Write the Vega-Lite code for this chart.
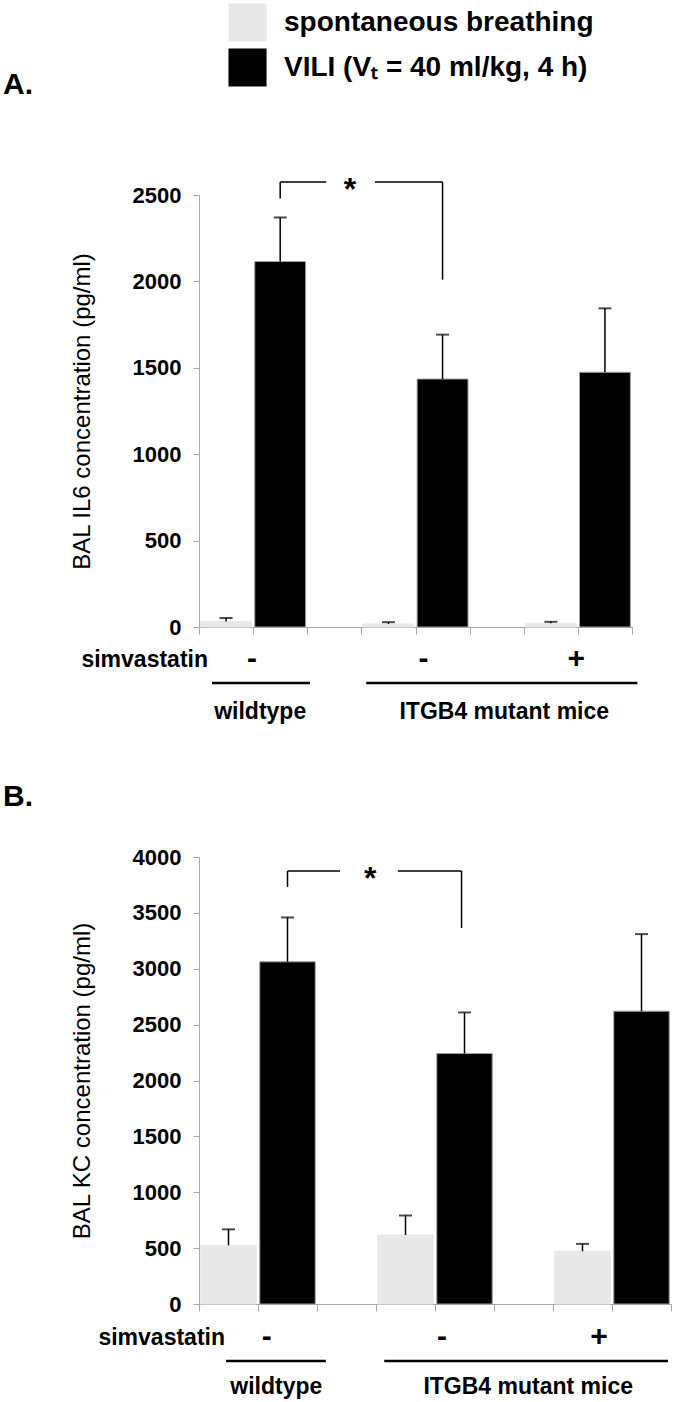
{
  "$schema": "https://vega.github.io/schema/vega-lite/v6.json",
  "padding": {"left": 3, "top": 3, "right": 3, "bottom": 3},
  "config": {
    "font": "Liberation Sans",
    "view": {"stroke": null},
    "axis": {
      "grid": false,
      "domainColor": "#A6A6A6",
      "tickColor": "#A6A6A6",
      "labelColor": "#000000",
      "titleColor": "#000000",
      "labelFont": "Liberation Sans",
      "titleFont": "Liberation Sans"
    },
    "title": {"font": "Liberation Sans", "color": "#000000"}
  },
  "datasets": {
    "il6": [
      {"bar": "wildtype | spontaneous breathing", "condition": "spontaneous breathing", "value": 32, "upper": 52},
      {"bar": "wildtype | VILI", "condition": "VILI (Vₜ = 40 ml/kg, 4 h)", "value": 2115, "upper": 2370},
      {"bar": "ITGB4 mutant | spontaneous breathing", "condition": "spontaneous breathing", "value": 18, "upper": 28},
      {"bar": "ITGB4 mutant | VILI", "condition": "VILI (Vₜ = 40 ml/kg, 4 h)", "value": 1435, "upper": 1692},
      {"bar": "ITGB4 mutant + simvastatin | spontaneous breathing", "condition": "spontaneous breathing", "value": 22, "upper": 30},
      {"bar": "ITGB4 mutant + simvastatin | VILI", "condition": "VILI (Vₜ = 40 ml/kg, 4 h)", "value": 1474, "upper": 1844}
    ],
    "kc": [
      {"bar": "wildtype | spontaneous breathing", "condition": "spontaneous breathing", "value": 525, "upper": 668},
      {"bar": "wildtype | VILI", "condition": "VILI (Vₜ = 40 ml/kg, 4 h)", "value": 3062, "upper": 3459},
      {"bar": "ITGB4 mutant | spontaneous breathing", "condition": "spontaneous breathing", "value": 618, "upper": 792},
      {"bar": "ITGB4 mutant | VILI", "condition": "VILI (Vₜ = 40 ml/kg, 4 h)", "value": 2242, "upper": 2609},
      {"bar": "ITGB4 mutant + simvastatin | spontaneous breathing", "condition": "spontaneous breathing", "value": 472, "upper": 538},
      {"bar": "ITGB4 mutant + simvastatin | VILI", "condition": "VILI (Vₜ = 40 ml/kg, 4 h)", "value": 2620, "upper": 3310}
    ],
    "simva": [{"label": "simvastatin", "pos": 0}],
    "signsA": [{"label": "-", "pos": 0.98}, {"label": "-", "pos": 4.15}, {"label": "+", "pos": 6.97}],
    "signsB": [{"label": "-", "pos": 1.15}, {"label": "-", "pos": 4.12}, {"label": "+", "pos": 6.78}],
    "groupsA": [
      {"label": "wildtype", "from": 0.24, "to": 2.05, "mid": 1.13},
      {"label": "ITGB4 mutant mice", "from": 3.09, "to": 8.1, "mid": 5.64}
    ],
    "groupsB": [
      {"label": "wildtype", "from": 0.46, "to": 2.15, "mid": 1.31},
      {"label": "ITGB4 mutant mice", "from": 3.14, "to": 7.95, "mid": 5.58}
    ],
    "bracketA": [
      {"x": 1.5, "x2": 1.5, "y": 2480, "y2": 2575},
      {"x": 1.5, "x2": 2.35, "y": 2575, "y2": 2575},
      {"x": 3.25, "x2": 4.5, "y": 2575, "y2": 2575},
      {"x": 4.5, "x2": 4.5, "y": 2575, "y2": 2010}
    ],
    "starA": [{"label": "*", "pos": 2.79, "y": 2575}],
    "bracketB": [
      {"x": 1.5, "x2": 1.5, "y": 3732, "y2": 3875},
      {"x": 1.5, "x2": 2.39, "y": 3875, "y2": 3875},
      {"x": 3.37, "x2": 4.45, "y": 3875, "y2": 3875},
      {"x": 4.45, "x2": 4.45, "y": 3875, "y2": 3365}
    ],
    "starB": [{"label": "*", "pos": 2.9, "y": 3875}]
  },
  "spacing": 58,
  "vconcat": [
    {
      "width": 433,
      "height": 432,
      "title": {"text": "A.", "anchor": "start", "frame": "group", "dx": -196, "offset": 74, "fontSize": 30, "fontWeight": "bold"},
      "layer": [
        {
          "layer": [
            {
              "data": {"name": "il6"},
              "mark": {"type": "bar", "width": {"band": 0.94}, "strokeWidth": 1},
              "encoding": {
                "x": {"field": "bar", "type": "nominal", "sort": null,
                  "scale": {"domain": ["wildtype | spontaneous breathing", "wildtype | VILI", "gap 1", "ITGB4 mutant | spontaneous breathing", "ITGB4 mutant | VILI", "gap 2", "ITGB4 mutant + simvastatin | spontaneous breathing", "ITGB4 mutant + simvastatin | VILI"], "paddingInner": 0, "paddingOuter": 0},
                  "axis": {"labels": false, "title": null, "tickBand": "extent", "tickSize": 7}},
                "y": {"field": "value", "type": "quantitative",
                  "scale": {"domain": [0, 2500], "nice": false},
                  "axis": {"values": [0, 500, 1000, 1500, 2000, 2500], "format": "d", "title": "BAL IL6 concentration (pg/ml)", "labelFontSize": 22, "labelFontWeight": "bold", "labelPadding": 12, "tickSize": 6, "titleFontSize": 24, "titleFontWeight": 500, "titlePadding": 38}},
                "color": {"field": "condition", "type": "nominal",
                  "scale": {"domain": ["spontaneous breathing", "VILI (Vₜ = 40 ml/kg, 4 h)"], "range": ["#E8E8E8", "#000000"]},
                  "legend": {"orient": "none", "legendX": 29, "legendY": -192, "title": null, "symbolType": "square", "symbolSize": 1450, "symbolStrokeWidth": 0, "symbolOpacity": 1, "labelFontSize": 28, "labelFontWeight": "bold", "labelColor": "#000000", "labelOffset": 17, "rowPadding": 6, "labelLimit": 500}},
                "stroke": {"field": "condition", "type": "nominal", "scale": {"domain": ["spontaneous breathing", "VILI (Vₜ = 40 ml/kg, 4 h)"], "range": ["#E8E8E8", "#A0A0A0"]}, "legend": null}
              }
            },
            {
              "data": {"name": "il6"},
              "mark": {"type": "rule", "color": "#000000", "strokeWidth": 1.5},
              "encoding": {
                "x": {"field": "bar", "type": "nominal"},
                "y": {"field": "value", "type": "quantitative"},
                "y2": {"field": "upper"}
              }
            },
            {
              "data": {"name": "il6"},
              "mark": {"type": "tick", "color": "#000000", "thickness": 2, "size": 13, "orient": "horizontal"},
              "encoding": {
                "x": {"field": "bar", "type": "nominal"},
                "y": {"field": "upper", "type": "quantitative"}
              }
            }
          ]
        },
        {
          "layer": [
            {
              "data": {"name": "simva"},
              "mark": {"type": "text", "align": "right", "baseline": "middle", "dx": 9, "dy": 33, "fontSize": 23, "fontWeight": "bold", "color": "#000000"},
              "encoding": {
                "x": {"field": "pos", "type": "quantitative", "scale": {"domain": [0, 8]}, "axis": null},
                "y": {"value": "height"},
                "text": {"field": "label"}
              }
            },
            {
              "data": {"name": "signsA"},
              "mark": {"type": "text", "align": "center", "baseline": "middle", "dy": 32, "fontSize": 30, "fontWeight": "bold", "color": "#000000"},
              "encoding": {
                "x": {"field": "pos", "type": "quantitative", "scale": {"domain": [0, 8]}, "axis": null},
                "y": {"value": "height"},
                "text": {"field": "label"}
              }
            },
            {
              "data": {"name": "groupsA"},
              "mark": {"type": "rule", "color": "#000000", "strokeWidth": 2.5, "yOffset": 56},
              "encoding": {
                "x": {"field": "from", "type": "quantitative", "scale": {"domain": [0, 8]}, "axis": null},
                "x2": {"field": "to"},
                "y": {"value": "height"}
              }
            },
            {
              "data": {"name": "groupsA"},
              "mark": {"type": "text", "align": "center", "baseline": "middle", "dy": 85, "fontSize": 23, "fontWeight": "bold", "color": "#000000"},
              "encoding": {
                "x": {"field": "mid", "type": "quantitative", "scale": {"domain": [0, 8]}, "axis": null},
                "y": {"value": "height"},
                "text": {"field": "label"}
              }
            },
            {
              "data": {"name": "bracketA"},
              "mark": {"type": "rule", "color": "#000000", "strokeWidth": 1.5},
              "encoding": {
                "x": {"field": "x", "type": "quantitative", "scale": {"domain": [0, 8]}, "axis": null},
                "x2": {"field": "x2"},
                "y": {"field": "y", "type": "quantitative"},
                "y2": {"field": "y2"}
              }
            },
            {
              "data": {"name": "starA"},
              "mark": {"type": "text", "align": "center", "baseline": "middle", "dy": 8, "fontSize": 32, "fontWeight": "bold", "color": "#000000"},
              "encoding": {
                "x": {"field": "pos", "type": "quantitative", "scale": {"domain": [0, 8]}, "axis": null},
                "y": {"field": "y", "type": "quantitative"},
                "text": {"field": "label"}
              }
            }
          ]
        }
      ],
      "resolve": {"scale": {"x": "independent"}}
    },
    {
      "width": 472,
      "height": 447,
      "title": {"text": "B.", "anchor": "start", "frame": "group", "dx": -196, "offset": 34, "fontSize": 30, "fontWeight": "bold"},
      "layer": [
        {
          "layer": [
            {
              "data": {"name": "kc"},
              "mark": {"type": "bar", "width": {"band": 0.94}, "strokeWidth": 1},
              "encoding": {
                "x": {"field": "bar", "type": "nominal", "sort": null,
                  "scale": {"domain": ["wildtype | spontaneous breathing", "wildtype | VILI", "gap 1", "ITGB4 mutant | spontaneous breathing", "ITGB4 mutant | VILI", "gap 2", "ITGB4 mutant + simvastatin | spontaneous breathing", "ITGB4 mutant + simvastatin | VILI"], "paddingInner": 0, "paddingOuter": 0},
                  "axis": {"labels": false, "title": null, "tickBand": "extent", "tickSize": 7}},
                "y": {"field": "value", "type": "quantitative",
                  "scale": {"domain": [0, 4000], "nice": false},
                  "axis": {"values": [0, 500, 1000, 1500, 2000, 2500, 3000, 3500, 4000], "format": "d", "title": "BAL KC concentration (pg/ml)", "labelFontSize": 22, "labelFontWeight": "bold", "labelPadding": 12, "tickSize": 6, "titleFontSize": 24, "titleFontWeight": 500, "titlePadding": 38}},
                "color": {"field": "condition", "type": "nominal",
                  "scale": {"domain": ["spontaneous breathing", "VILI (Vₜ = 40 ml/kg, 4 h)"], "range": ["#E8E8E8", "#000000"]},
                  "legend": null},
                "stroke": {"field": "condition", "type": "nominal", "scale": {"domain": ["spontaneous breathing", "VILI (Vₜ = 40 ml/kg, 4 h)"], "range": ["#E8E8E8", "#A0A0A0"]}, "legend": null}
              }
            },
            {
              "data": {"name": "kc"},
              "mark": {"type": "rule", "color": "#000000", "strokeWidth": 1.5},
              "encoding": {
                "x": {"field": "bar", "type": "nominal"},
                "y": {"field": "value", "type": "quantitative"},
                "y2": {"field": "upper"}
              }
            },
            {
              "data": {"name": "kc"},
              "mark": {"type": "tick", "color": "#000000", "thickness": 2, "size": 13, "orient": "horizontal"},
              "encoding": {
                "x": {"field": "bar", "type": "nominal"},
                "y": {"field": "upper", "type": "quantitative"}
              }
            }
          ]
        },
        {
          "layer": [
            {
              "data": {"name": "simva"},
              "mark": {"type": "text", "align": "right", "baseline": "middle", "dx": 26, "dy": 34, "fontSize": 23, "fontWeight": "bold", "color": "#000000"},
              "encoding": {
                "x": {"field": "pos", "type": "quantitative", "scale": {"domain": [0, 8]}, "axis": null},
                "y": {"value": "height"},
                "text": {"field": "label"}
              }
            },
            {
              "data": {"name": "signsB"},
              "mark": {"type": "text", "align": "center", "baseline": "middle", "dy": 33, "fontSize": 30, "fontWeight": "bold", "color": "#000000"},
              "encoding": {
                "x": {"field": "pos", "type": "quantitative", "scale": {"domain": [0, 8]}, "axis": null},
                "y": {"value": "height"},
                "text": {"field": "label"}
              }
            },
            {
              "data": {"name": "groupsB"},
              "mark": {"type": "rule", "color": "#000000", "strokeWidth": 2.5, "yOffset": 57},
              "encoding": {
                "x": {"field": "from", "type": "quantitative", "scale": {"domain": [0, 8]}, "axis": null},
                "x2": {"field": "to"},
                "y": {"value": "height"}
              }
            },
            {
              "data": {"name": "groupsB"},
              "mark": {"type": "text", "align": "center", "baseline": "middle", "dy": 83, "fontSize": 23, "fontWeight": "bold", "color": "#000000"},
              "encoding": {
                "x": {"field": "mid", "type": "quantitative", "scale": {"domain": [0, 8]}, "axis": null},
                "y": {"value": "height"},
                "text": {"field": "label"}
              }
            },
            {
              "data": {"name": "bracketB"},
              "mark": {"type": "rule", "color": "#000000", "strokeWidth": 1.5},
              "encoding": {
                "x": {"field": "x", "type": "quantitative", "scale": {"domain": [0, 8]}, "axis": null},
                "x2": {"field": "x2"},
                "y": {"field": "y", "type": "quantitative"},
                "y2": {"field": "y2"}
              }
            },
            {
              "data": {"name": "starB"},
              "mark": {"type": "text", "align": "center", "baseline": "middle", "dy": 8, "fontSize": 32, "fontWeight": "bold", "color": "#000000"},
              "encoding": {
                "x": {"field": "pos", "type": "quantitative", "scale": {"domain": [0, 8]}, "axis": null},
                "y": {"field": "y", "type": "quantitative"},
                "text": {"field": "label"}
              }
            }
          ]
        }
      ],
      "resolve": {"scale": {"x": "independent"}}
    }
  ]
}
